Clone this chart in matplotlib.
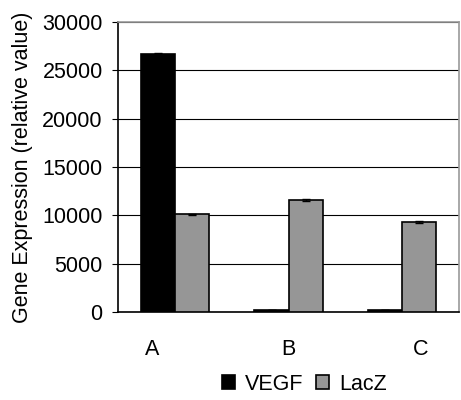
import numpy as np
import matplotlib.pyplot as plt

plt.rcParams['font.family'] = ['Liberation Sans', 'DejaVu Sans']

groups = ['A', 'B', 'C']
vegf = [26700, 200, 200]
lacz = [10100, 11600, 9300]
vegf_err = [60, 20, 20]
lacz_err = [80, 80, 80]

fig = plt.figure(figsize=(4.61, 4.0), dpi=100)
ax = fig.add_axes([0.256, 0.22, 0.74, 0.725])

x = np.arange(len(groups))
w = 0.3
ax.bar(x - w/2, vegf, w, yerr=vegf_err, color='black', edgecolor='black',
       linewidth=1.2, capsize=3, error_kw=dict(elinewidth=1, capthick=1),
       label='VEGF', zorder=3)
ax.bar(x + w/2, lacz, w, yerr=lacz_err, color='#969696', edgecolor='black',
       linewidth=1.2, capsize=3, error_kw=dict(elinewidth=1, capthick=1),
       label='LacZ', zorder=3)

ax.set_xlim(-0.5, 2.5)
ax.set_ylim(0, 30000)
ax.set_yticks(range(0, 30001, 5000))
ax.set_xticks([])
ax.yaxis.grid(True, color='black', linewidth=0.8, zorder=0)
ax.tick_params(axis='y', direction='out', length=4, labelsize=15.5, pad=7)

# group names sit a little off the bar centres
label_x = [-0.20, 1.0, 2.16]
for gx, name in zip(label_x, groups):
    ax.text(gx, -0.13, name, transform=ax.get_xaxis_transform(),
            ha='center', va='center', fontsize=15.5)

for side in ['left', 'bottom']:
    ax.spines[side].set_color('black')
    ax.spines[side].set_linewidth(1.2)
for side in ['top', 'right']:
    ax.spines[side].set_color('#999999')
    ax.spines[side].set_linewidth(1.2)

ax.set_ylabel('Gene Expression (relative value)', fontsize=15.5)
ax.yaxis.set_label_coords(-0.25, 0.5)

fig.legend(loc='center', bbox_to_anchor=(0.66, 0.04), ncol=2,
           frameon=False, fontsize=15.5, handlelength=0.6, handleheight=0.6,
           handletextpad=0.45, columnspacing=0.6, borderpad=0)

fig.savefig('out.png', dpi=100)
